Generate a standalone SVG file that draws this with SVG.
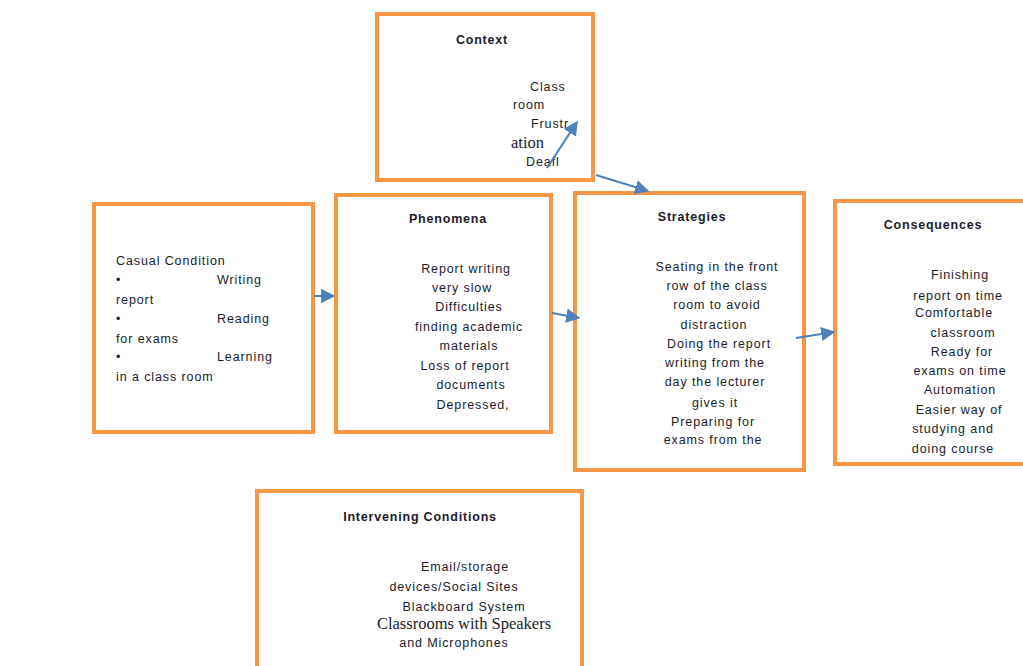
<svg xmlns="http://www.w3.org/2000/svg" width="1023" height="666" viewBox="0 0 1023 666">
<style>
.box{fill:#fff;stroke:#F79646;stroke-width:4}
.t{font-family:"Liberation Sans",Arial,sans-serif;font-size:12.5px;fill:#1b1b2a;letter-spacing:0.9px}
.s{font-family:"Liberation Serif","Times New Roman",serif;font-size:16.5px;fill:#1b1b2a}
.h{font-family:"Liberation Sans",Arial,sans-serif;font-size:12.5px;font-weight:bold;fill:#1b1b2a;letter-spacing:0.8px}
.c{text-anchor:middle}
.ln{stroke:#4F81BD;stroke-width:2.2;fill:none}
</style>
<defs>
<marker id="ah" viewBox="0 0 10 10" refX="9" refY="5" markerWidth="6.5" markerHeight="6.5" orient="auto" markerUnits="strokeWidth">
<path d="M0,0 L10,5 L0,10 z" fill="#4F81BD"/>
</marker>
<clipPath id="cp1"><rect x="338" y="197" width="211" height="233"/></clipPath>
<clipPath id="cp2"><rect x="577" y="195" width="225" height="273"/></clipPath>
<clipPath id="cp3"><rect x="837" y="203" width="186" height="259"/></clipPath>
<clipPath id="cp4"><rect x="259" y="493" width="321" height="173"/></clipPath>
</defs>
<rect width="1023" height="666" fill="#fff"/>

<g id="context">
<rect class="box" x="377" y="14" width="216" height="166"/>
<text class="h c" x="482" y="44">Context</text>
<text class="t" x="530" y="91">Class</text>
<text class="t" x="513" y="109">room</text>
<text class="t" x="531" y="128">Frustr</text>
<text class="s" x="511" y="148">ation</text>
<text class="t" x="526" y="166">Deafl</text>
</g>

<g id="casual">
<rect class="box" x="94" y="204" width="219" height="228"/>
<text class="t" x="116" y="265">Casual Condition</text>
<text class="t" x="116" y="284">•</text>
<text class="t" x="217" y="284">Writing</text>
<text class="t" x="116" y="304">report</text>
<text class="t" x="116" y="323">•</text>
<text class="t" x="217" y="323">Reading</text>
<text class="t" x="116" y="343">for exams</text>
<text class="t" x="116" y="361">•</text>
<text class="t" x="217" y="361">Learning</text>
<text class="t" x="116" y="381">in a class room</text>
</g>

<g id="phenomena">
<rect class="box" x="336" y="195" width="215" height="237"/>
<text class="h c" x="448" y="223">Phenomena</text>
<g clip-path="url(#cp1)">
<text class="t c" x="466" y="273">Report writing</text>
<text class="t c" x="462" y="292">very slow</text>
<text class="t c" x="469" y="311">Difficulties</text>
<text class="t c" x="469" y="331">finding academic</text>
<text class="t c" x="469" y="350">materials</text>
<text class="t c" x="465" y="370">Loss of report</text>
<text class="t c" x="471" y="389">documents</text>
<text class="t c" x="473" y="409">Depressed,</text>
</g>
</g>

<g id="strategies">
<rect class="box" x="575" y="193" width="229" height="277"/>
<text class="h c" x="692" y="221">Strategies</text>
<g clip-path="url(#cp2)">
<text class="t c" x="717" y="271">Seating in the front</text>
<text class="t c" x="717" y="290">row of the class</text>
<text class="t c" x="717" y="309">room to avoid</text>
<text class="t c" x="714" y="329">distraction</text>
<text class="t c" x="719" y="348">Doing the report</text>
<text class="t c" x="715" y="367">writing from the</text>
<text class="t c" x="715" y="386">day the lecturer</text>
<text class="t c" x="715" y="407">gives it</text>
<text class="t c" x="713" y="426">Preparing for</text>
<text class="t c" x="713" y="444">exams from the</text>
</g>
</g>

<g id="consequences">
<rect class="box" x="835" y="201" width="200" height="263"/>
<text class="h c" x="933" y="229">Consequences</text>
<g clip-path="url(#cp3)">
<text class="t c" x="960" y="279">Finishing</text>
<text class="t c" x="958" y="300">report on time</text>
<text class="t c" x="954" y="317">Comfortable</text>
<text class="t c" x="963" y="337">classroom</text>
<text class="t c" x="962" y="356">Ready for</text>
<text class="t c" x="960" y="375">exams on time</text>
<text class="t c" x="960" y="394">Automation</text>
<text class="t c" x="959" y="414">Easier way of</text>
<text class="t c" x="953" y="433">studying and</text>
<text class="t c" x="953" y="453">doing course</text>
</g>
</g>

<g id="intervening">
<rect class="box" x="257" y="491" width="325" height="185"/>
<text class="h c" x="420" y="521">Intervening Conditions</text>
<g clip-path="url(#cp4)">
<text class="t c" x="465" y="571">Email/storage</text>
<text class="t c" x="454" y="591">devices/Social Sites</text>
<text class="t c" x="464" y="611">Blackboard System</text>
<text class="s c" x="464" y="629">Classrooms with Speakers</text>
<text class="t c" x="454" y="647">and Microphones</text>
</g>
</g>

<g id="connectors">
<line class="ln" x1="547" y1="168" x2="577" y2="122" marker-end="url(#ah)"/>
<line class="ln" x1="596" y1="175" x2="648" y2="191" marker-end="url(#ah)"/>
<line class="ln" x1="314" y1="296" x2="334" y2="296" marker-end="url(#ah)"/>
<line class="ln" x1="552" y1="313" x2="579" y2="318" marker-end="url(#ah)"/>
<line class="ln" x1="796" y1="338" x2="834" y2="332" marker-end="url(#ah)"/>
</g>
</svg>
